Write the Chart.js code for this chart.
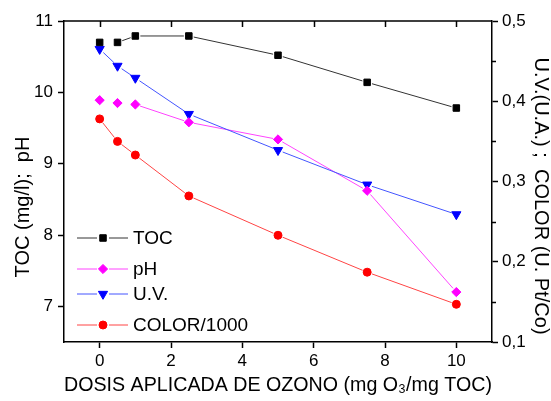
<!DOCTYPE html>
<html lang="es">
<head>
  <meta charset="UTF-8">
  <title>TOC, pH, U.V. y color frente a dosis de ozono</title>
  <script src="https://cdn.jsdelivr.net/npm/chart.js@4.4.0/dist/chart.umd.min.js"></script>
  <style>
    body { margin: 0; background: #fff; }
    #wrap { width: 551px; height: 401px; }
  </style>
</head>
<body>
  <div id="wrap"><canvas id="ozone-chart" width="551" height="401"></canvas></div>

  <script>
    // dosis aplicada (mg O3 / mg TOC)
    const dose = [0, 0.5, 1, 2.5, 5, 7.5, 10];
    // eje izquierdo
    const toc = [10.70, 10.70, 10.79, 10.79, 10.52, 10.14, 9.78];
    const ph = [9.89, 9.85, 9.83, 9.58, 9.34, 8.62, 7.20];
    // eje derecho
    const uv = [0.465, 0.444, 0.429, 0.384, 0.339, 0.296, 0.259];
    const color = [0.378, 0.350, 0.333, 0.282, 0.233, 0.187, 0.147];

    const xTicks = [0, 2, 4, 6, 8, 10];
    const leftTicks = [7, 8, 9, 10, 11];
    const rightTicks = [0.1, 0.2, 0.3, 0.4, 0.5];
    const rightMinor = [0.15, 0.25, 0.35, 0.45];

    const FONT = 'Liberation Sans, Arial, sans-serif';

    const series = [
      { label: 'TOC', data: toc, axis: 'y', line: '#333333', mark: '#000000', style: 'rect', r: 4.6, rot: 0 },
      { label: 'pH', data: ph, axis: 'y', line: '#ff44ff', mark: '#ff00ff', style: 'rectRot', r: 4.6, rot: 0 },
      { label: 'U.V.', data: uv, axis: 'y1', line: '#4455ff', mark: '#0000ff', style: 'triangle', r: 5.3, rot: 180 },
      { label: 'COLOR/1000', data: color, axis: 'y1', line: '#ff4444', mark: '#ff0000', style: 'circle', r: 4, rot: 0 }
    ];

    // lineas con hueco junto a los marcadores (estilo Origin)
    const gapLines = {
      id: 'gapLines',
      beforeDatasetsDraw(chart) {
        const ctx = chart.ctx;
        ctx.save();
        chart.data.datasets.forEach((ds, i) => {
          const pts = chart.getDatasetMeta(i).data;
          ctx.strokeStyle = ds.lineColor;
          ctx.lineWidth = 1;
          for (let k = 0; k < pts.length - 1; k++) {
            const a = pts[k], b = pts[k + 1];
            const dx = b.x - a.x, dy = b.y - a.y;
            const len = Math.hypot(dx, dy);
            if (len < 18.5) continue;
            const g = 5, ux = dx / len, uy = dy / len;
            ctx.beginPath();
            ctx.moveTo(a.x + ux * g, a.y + uy * g);
            ctx.lineTo(b.x - ux * g, b.y - uy * g);
            ctx.stroke();
          }
        });
        ctx.restore();
      }
    };

    const frame = {
      id: 'frame',
      afterDraw(chart) {
        const ctx = chart.ctx;
        const { left, right, top, bottom } = chart.chartArea;
        const xs = chart.scales.x, y1 = chart.scales.y1;
        ctx.save();
        ctx.strokeStyle = '#000';
        ctx.lineWidth = 1.5;
        ctx.beginPath();
        ctx.moveTo(left, top);
        ctx.lineTo(right, top);
        xTicks.forEach(v => {
          const px = Math.round(xs.getPixelForValue(v)) + 0.5;
          ctx.moveTo(px, top);
          ctx.lineTo(px, top + 6);
        });
        rightMinor.forEach(v => {
          const py = Math.round(y1.getPixelForValue(v)) + 0.5;
          ctx.moveTo(right, py);
          ctx.lineTo(right + 4, py);
        });
        ctx.stroke();

        // titulos de los ejes verticales
        ctx.fillStyle = '#000';
        ctx.font = '20px ' + FONT;
        ctx.textAlign = 'center';
        ctx.textBaseline = 'middle';
        ctx.save();
        ctx.translate(23, 207);
        ctx.rotate(-Math.PI / 2);
        ctx.fillText('TOC (mg/l);  pH', 0, 0);
        ctx.restore();
        ctx.save();
        ctx.translate(541, 196);
        ctx.rotate(Math.PI / 2);
        ctx.fillText('U.V.(U.A.) ;  COLOR (U. Pt/Co)', 0, 0);
        ctx.restore();

        // leyenda
        const rows = [238, 269, 294, 325];
        const x0 = left + 13, xm = left + 39, x1 = left + 64;
        ctx.textAlign = 'left';
        ctx.font = '19px ' + FONT;
        chart.data.datasets.forEach((ds, i) => {
          const y = rows[i];
          ctx.strokeStyle = ds.lineColor;
          ctx.lineWidth = 1;
          ctx.beginPath();
          ctx.moveTo(x0, y); ctx.lineTo(xm - 6, y);
          ctx.moveTo(xm + 6, y); ctx.lineTo(x1, y);
          ctx.stroke();
          ctx.fillStyle = ds.pointBackgroundColor;
          ctx.strokeStyle = ds.pointBorderColor;
          ctx.lineWidth = 1;
          Chart.helpers.drawPoint(ctx, {
            pointStyle: ds.pointStyle, radius: ds.pointRadius,
            rotation: ds.pointRotation, borderWidth: 1
          }, xm, y);
          ctx.fillStyle = '#000';
          ctx.fillText(ds.label, x1 + 5, y + 1);
        });
        ctx.restore();
      }
    };

    const axisBase = {
      grid: { display: true, drawOnChartArea: false, drawTicks: true, tickLength: 6, color: '#000', tickColor: '#000', tickWidth: 1.5 },
      border: { display: true, color: '#000', width: 1.5 }
    };

    new Chart(document.getElementById('ozone-chart'), {
      type: 'line',
      data: {
        datasets: series.map(s => ({
          label: s.label,
          data: dose.map((d, i) => ({ x: d, y: s.data[i] })),
          yAxisID: s.axis,
          showLine: false,
          lineColor: s.line,
          borderColor: s.line,
          pointStyle: s.style,
          pointRadius: s.r,
          pointHoverRadius: s.r,
          pointRotation: s.rot,
          pointBackgroundColor: s.mark,
          pointBorderColor: s.mark,
          pointBorderWidth: 1
        }))
      },
      options: {
        responsive: false,
        animation: false,
        layout: { padding: { top: 21, left: 0, right: 0, bottom: 0 } },
        plugins: { legend: { display: false }, tooltip: { enabled: false } },
        scales: {
          x: {
            ...axisBase,
            type: 'linear', min: -1, max: 11,
            afterBuildTicks: s => { s.ticks = xTicks.map(v => ({ value: v })); },
            afterFit: s => { s.height = 59; },
            ticks: { color: '#000', font: { size: 17, family: FONT }, padding: 3 },
            title: {
              display: true, text: 'DOSIS APLICADA DE OZONO (mg O\u2083/mg TOC)',
              color: '#000', font: { size: 21, family: FONT }, padding: { top: 0, bottom: 3 }
            }
          },
          y: {
            ...axisBase,
            type: 'linear', position: 'left', min: 6.5, max: 11,
            afterBuildTicks: s => { s.ticks = leftTicks.map(v => ({ value: v })); },
            afterFit: s => { s.width = 64; },
            ticks: { color: '#000', font: { size: 17, family: FONT }, padding: 5 }
          },
          y1: {
            ...axisBase,
            type: 'linear', position: 'right', min: 0.1, max: 0.5,
            afterBuildTicks: s => { s.ticks = rightTicks.map(v => ({ value: v })); },
            afterFit: s => { s.width = 59; },
            ticks: {
              color: '#000', font: { size: 17, family: FONT }, padding: 4,
              callback: v => v.toFixed(1).replace('.', ',')
            }
          }
        }
      },
      plugins: [gapLines, frame]
    });
  </script>
</body>
</html>
